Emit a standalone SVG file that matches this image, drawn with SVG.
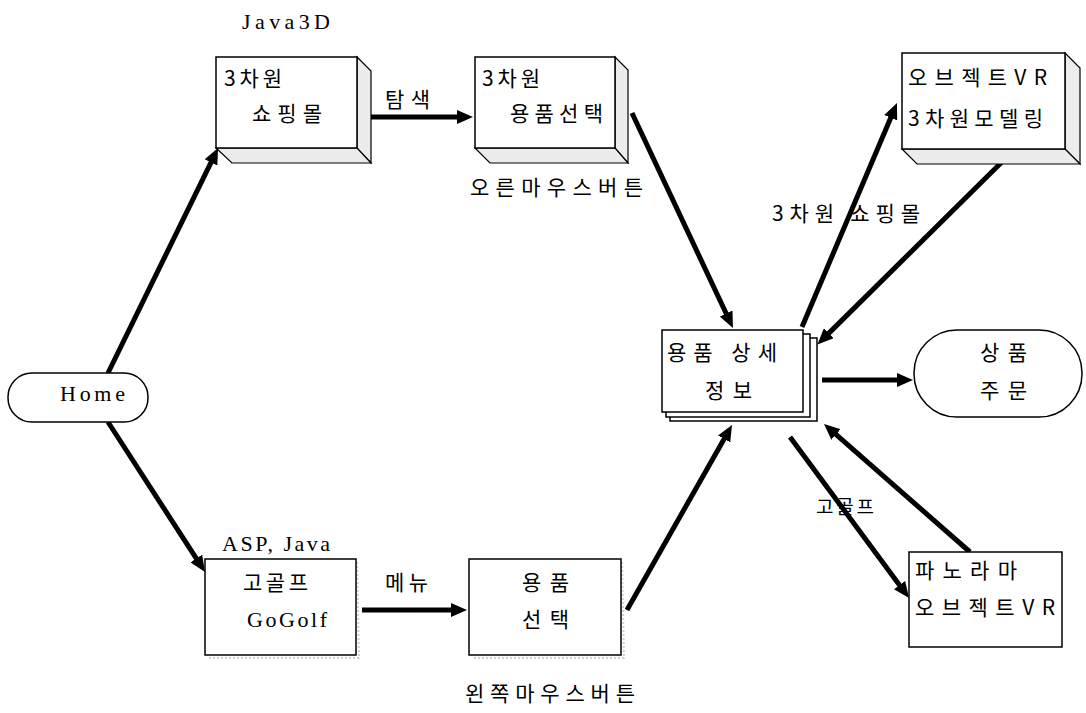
<svg xmlns="http://www.w3.org/2000/svg" width="1086" height="713" viewBox="0 0 1086 713">
<style>
.box{fill:#fff;stroke:#000;stroke-width:1.5}
.face{fill:#ececec;stroke:#000;stroke-width:1.2}
.shadow{fill:none;stroke:#cfcfcf;stroke-width:2;stroke-dasharray:2 2}
.ko{font-family:"Noto Sans CJK KR","Noto Sans",sans-serif;font-size:21px;fill:#000}
.lat{font-family:"Liberation Serif",serif;font-size:22px;fill:#000}
.arr{stroke:#000;stroke-width:5;fill:none;marker-end:url(#ah)}
</style>
<defs>
<marker id="ah" markerUnits="userSpaceOnUse" markerWidth="18" markerHeight="14" refX="2" refY="7" orient="auto">
<path d="M0,0 L16,7 L0,14 z" fill="#000"/>
</marker>
</defs>
<rect width="1086" height="713" fill="#fff"/>

<g id="connectors">
<line class="arr" x1="108" y1="373" x2="211.9" y2="160.6"/>
<line class="arr" x1="108" y1="422" x2="197.4" y2="560.2"/>
<line class="arr" x1="370" y1="117" x2="459" y2="117"/>
<line class="arr" x1="632" y1="113" x2="727" y2="315.3"/>
<line class="arr" x1="802" y1="327" x2="891.5" y2="115.9"/>
<line class="arr" x1="1012" y1="152" x2="827.4" y2="334.6"/>
<line class="arr" x1="822" y1="380" x2="899" y2="380"/>
<line class="arr" x1="970" y1="552" x2="834.5" y2="433.2"/>
<line class="arr" x1="790" y1="437" x2="900.7" y2="586.7"/>
<line class="arr" x1="627" y1="610" x2="725.1" y2="437.2"/>
<line class="arr" x1="362" y1="610" x2="453" y2="610"/>
</g>

<g id="labels">
<text class="lat" x="242" y="29" textLength="88">Java3D</text>
<text class="ko" x="385" y="107" textLength="45">탐색</text>
<text class="ko" x="470" y="195" textLength="173">오른마우스버튼</text>
<text class="ko" x="772" y="221" textLength="148">3차원 쇼핑몰</text>
<text class="lat" x="222" y="551" textLength="108">ASP, Java</text>
<text class="ko" x="385" y="590" textLength="43">메뉴</text>
<text class="ko" x="816" y="514" style="font-size:19px" textLength="58">고골프</text>
<text class="ko" x="465" y="701" textLength="170">왼쪽마우스버튼</text>
</g>

<g id="home">
<rect class="box" x="8" y="373" width="140" height="49" rx="24" ry="24"/>
<text class="lat" x="60" y="401" textLength="65">Home</text>
</g>

<g id="shop3d">
<polygon class="face" points="357,57 371,71 371,163 357,148"/>
<polygon class="face" points="216,148 357,148 371,163 232,163"/>
<rect class="box" x="216" y="57" width="141" height="91"/>
<text class="ko" x="224" y="86" textLength="58">3차원</text>
<text class="ko" x="252" y="121" textLength="70">쇼핑몰</text>
</g>

<g id="select3d">
<polygon class="face" points="615,57 628,70 628,163 615,148"/>
<polygon class="face" points="475,148 615,148 628,163 490,163"/>
<rect class="box" x="475" y="57" width="140" height="91"/>
<text class="ko" x="482" y="86" textLength="58">3차원</text>
<text class="ko" x="510" y="121" textLength="93">용품선택</text>
</g>

<g id="objectvr">
<polygon class="face" points="1065,53 1080,68 1080,164 1065,149"/>
<polygon class="face" points="902,149 1065,149 1080,164 917,164"/>
<rect class="box" x="902" y="53" width="163" height="96"/>
<text class="ko" x="908" y="85" textLength="139">오브젝트VR</text>
<text class="ko" x="908" y="126" textLength="135">3차원모델링</text>
</g>

<g id="detail">
<rect class="box" x="670" y="338" width="147" height="83"/>
<rect class="box" x="666" y="334" width="144" height="83"/>
<rect class="box" x="662" y="330" width="141" height="82"/>
<text class="ko" x="667" y="360" textLength="110">용품 상세</text>
<text class="ko" x="705" y="398" textLength="47">정보</text>
</g>

<g id="order">
<rect class="box" x="914" y="330" width="168" height="87" rx="43" ry="43"/>
<text class="ko" x="980" y="360" textLength="47">상품</text>
<text class="ko" x="980" y="398" textLength="47">주문</text>
</g>

<g id="gogolf">
<polyline class="shadow" points="357,562 359,658 208,658"/>
<rect class="box" x="205" y="559" width="151" height="96"/>
<text class="ko" x="243" y="590" textLength="65">고골프</text>
<text class="lat" x="247" y="627" textLength="80">GoGolf</text>
</g>

<g id="select2d">
<polyline class="shadow" points="622,562 624,658 472,658"/>
<rect class="box" x="469" y="559" width="152" height="96"/>
<text class="ko" x="522" y="590" textLength="47">용품</text>
<text class="ko" x="522" y="627" textLength="47">선택</text>
</g>

<g id="panorama">
<rect class="box" x="909" y="552" width="153" height="95"/>
<text class="ko" x="915" y="578" textLength="102">파노라마</text>
<text class="ko" x="915" y="615" textLength="140">오브젝트VR</text>
</g>
</svg>
